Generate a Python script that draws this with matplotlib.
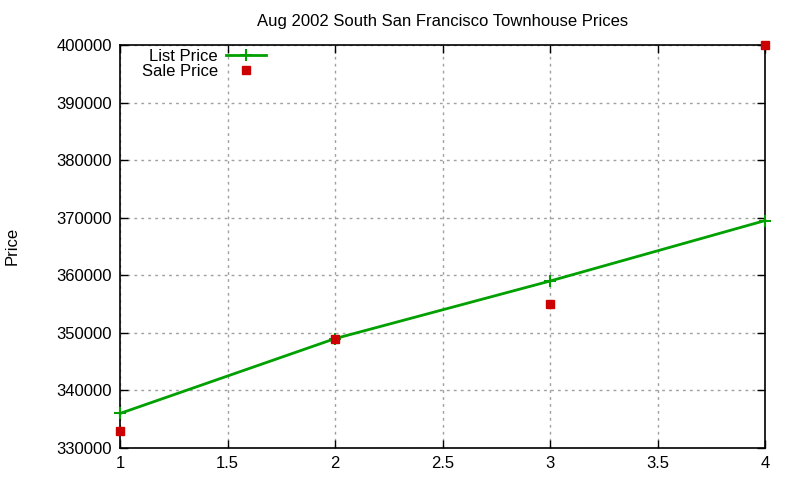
import matplotlib
matplotlib.use("Agg")
import matplotlib.pyplot as plt
from matplotlib.ticker import FixedLocator

plt.rcParams['font.family'] = ['Liberation Sans', 'DejaVu Sans']

x = [1, 2, 3, 4]
list_price = [336000, 349000, 359000, 369500]
sale_price = [333000, 349000, 355000, 400000]
xticks = [1, 1.5, 2, 2.5, 3, 3.5, 4]
yticks = [330000, 340000, 350000, 360000, 370000, 380000, 390000, 400000]

fig = plt.figure(figsize=(8, 4.8), dpi=100)
ax = fig.add_axes([120/800, 1-448/480, (765-120)/800, (448-45)/480])

ax.plot(x, list_price, color='#00a000', lw=2, marker='+', ms=8, mew=1.5,
        label='List Price', clip_on=False, zorder=3)
ax.plot(x, sale_price, color='#cc0000', ls='none', marker='s', ms=6,
        label='Sale Price', clip_on=False, zorder=4)

ax.set_xlim(1, 4)
ax.set_ylim(330000, 400000)
ax.xaxis.set_major_locator(FixedLocator(xticks))
ax.yaxis.set_major_locator(FixedLocator(yticks))
ax.set_xticklabels([f'{t:g}' for t in xticks])
ax.set_yticklabels([str(t) for t in yticks])
ax.tick_params(direction='in', top=True, right=True, length=6, width=1,
               labelsize=12, colors='black', pad=6)
ax.grid(True, color='#a0a0a0', ls=(0, (2, 3)), lw=1)
for s in ax.spines.values():
    s.set_linewidth(1.2)

ax.set_title('Aug 2002 South San Francisco Townhouse Prices', fontsize=12, pad=14)
fig.text(12/800, 1-246/480, 'Price', rotation=90, ha='center', va='center', fontsize=12)

leg = ax.legend(loc='upper left', bbox_to_anchor=(0.016, 1.02), frameon=False,
                markerfirst=False, fontsize=12, handlelength=2.4,
                borderpad=0.2, labelspacing=0.0, handletextpad=0.5)
for t in leg.get_texts():
    t.set_ha('right')

fig.savefig('out.png', dpi=100)
